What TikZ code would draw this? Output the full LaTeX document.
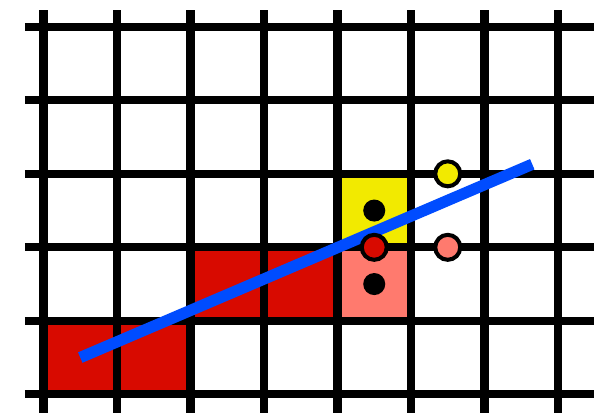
\documentclass[tikz,border=0pt]{standalone}
\usepackage{tikz}
\usetikzlibrary{positioning}
\definecolor{cellred}{RGB}{216,10,0}
\definecolor{cellpink}{RGB}{255,122,110}
\definecolor{cellyellow}{RGB}{242,234,0}
\definecolor{fitblue}{RGB}{0,76,255}
\begin{document}
\begin{tikzpicture}[
  gridline/.style={line width=0.11cm, black},
  fitline/.style={line width=0.154cm, fitblue},
  sample/.style={circle, fill=black, minimum size=0.3cm, inner sep=0pt},
  probe/.style={circle, draw=black, line width=0.055cm, minimum size=0.34cm, inner sep=0pt}
]
\useasboundingbox (-0.592,-0.254) rectangle (7.49,5.365);

% filled cells
\fill[cellred] (0,0) rectangle (2,1);
\fill[cellred] (2,1) rectangle (4,2);
\fill[cellpink] (4,1) rectangle (5,2);
\fill[cellyellow] (4,2) rectangle (5,3);

% grid
\foreach \y in {0,...,5}
  \draw[gridline] (-0.252,\y) -- (7.49,\y);
\foreach \x in {0,...,7}
  \draw[gridline] (\x,-0.254) -- (\x,5.23);

% fitted line
\coordinate (start) at (0.5,0.5);
\coordinate (end) at (6.65,3.13);
\draw[fitline] (start) -- (end);

% samples
\node[sample] (s1) at (4.5,2.5) {};
\node[sample] (s2) at (4.5,1.5) {};
\node[probe, fill=cellred] (p1) at (4.5,2) {};
\node[probe, fill=cellyellow] (p2) at (5.5,3) {};
\node[probe, fill=cellpink] (p3) at (5.5,2) {};
\end{tikzpicture}
\end{document}
